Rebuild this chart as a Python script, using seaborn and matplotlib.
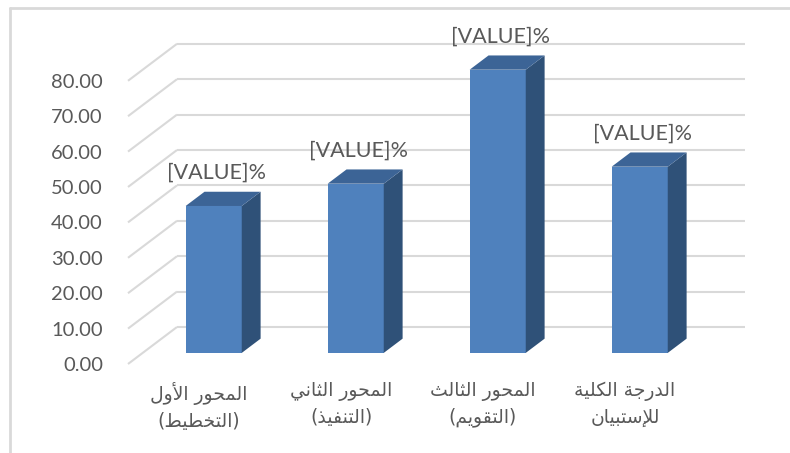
import matplotlib
matplotlib.use("Agg")
import matplotlib.pyplot as plt
from matplotlib.patches import Polygon
from matplotlib.lines import Line2D
import seaborn as sns
import pandas as pd

# ---------------- data ----------------
CATEGORIES = [
    "المحور الأول\n(التخطيط)",
    "المحور الثاني\n(التنفيذ)",
    "المحور الثالث\n(التقويم)",
    "الدرجة الكلية\nللإستبيان",
]
VALUES = [41.5, 47.8, 80.0, 52.6]
DATA_LABELS = ["[VALUE]%", "[VALUE]%", "[VALUE]%", "[VALUE]%"]
Y_TICKS = [0, 10, 20, 30, 40, 50, 60, 70, 80]

# ---------------- minimal Arabic shaping (matplotlib has no complex text layout) ----------------
AR_FORMS = {
    'ء': (0xFE80, 1), 'آ': (0xFE81, 2), 'أ': (0xFE83, 2), 'ؤ': (0xFE85, 2), 'إ': (0xFE87, 2),
    'ئ': (0xFE89, 4), 'ا': (0xFE8D, 2), 'ب': (0xFE8F, 4), 'ة': (0xFE93, 2), 'ت': (0xFE95, 4),
    'ث': (0xFE99, 4), 'ج': (0xFE9D, 4), 'ح': (0xFEA1, 4), 'خ': (0xFEA5, 4), 'د': (0xFEA9, 2),
    'ذ': (0xFEAB, 2), 'ر': (0xFEAD, 2), 'ز': (0xFEAF, 2), 'س': (0xFEB1, 4), 'ش': (0xFEB5, 4),
    'ص': (0xFEB9, 4), 'ض': (0xFEBD, 4), 'ط': (0xFEC1, 4), 'ظ': (0xFEC5, 4), 'ع': (0xFEC9, 4),
    'غ': (0xFECD, 4), 'ف': (0xFED1, 4), 'ق': (0xFED5, 4), 'ك': (0xFED9, 4), 'ل': (0xFEDD, 4),
    'م': (0xFEE1, 4), 'ن': (0xFEE5, 4), 'ه': (0xFEE9, 4), 'و': (0xFEED, 2), 'ى': (0xFEEF, 2),
    'ي': (0xFEF1, 4),
}
LAM_ALEF = {'آ': 0xFEF5, 'أ': 0xFEF7, 'إ': 0xFEF9, 'ا': 0xFEFB}


def shape_line(s):
    units = []
    i = 0
    while i < len(s):
        c = s[i]
        if c == 'ل' and i + 1 < len(s) and s[i + 1] in LAM_ALEF:
            units.append(('LA', s[i + 1]))
            i += 2
        else:
            units.append(('C', c))
            i += 1

    def joins_next(u):
        if u[0] == 'LA':
            return False
        f = AR_FORMS.get(u[1])
        return f is not None and f[1] == 4

    def is_ar(u):
        return u[0] == 'LA' or u[1] in AR_FORMS

    out = []
    for k, u in enumerate(units):
        prev = units[k - 1] if k > 0 else None
        nxt = units[k + 1] if k + 1 < len(units) else None
        jp = prev is not None and joins_next(prev)
        if u[0] == 'LA':
            out.append(chr(LAM_ALEF[u[1]] + (1 if jp else 0)))
            continue
        f = AR_FORMS.get(u[1])
        if f is None:
            out.append(u[1])
            continue
        base, n = f
        if n == 1:
            out.append(chr(base))
            continue
        jn = n == 4 and nxt is not None and is_ar(nxt)
        if jp and jn:
            idx = 3
        elif jp:
            idx = 1
        elif jn:
            idx = 2
        else:
            idx = 0
        out.append(chr(base + idx))
    vis = ''.join(reversed(out))
    return vis.translate(str.maketrans('()', ')('))


def shape(text):
    return "\n".join(shape_line(line) for line in text.split("\n"))


# ---------------- style ----------------
sns.set_theme(style="white")
plt.rcParams['font.family'] = ['Lato', 'DejaVu Sans']

FRONT = "#4F81BD"
SIDE = "#2F5178"
TOP = "#3C6496"
GRID = "#D9D9D9"
TEXT = "#595959"

W, H = 790, 453
fig = plt.figure(figsize=(W / 100, H / 100), dpi=100)
fig.patch.set_facecolor("white")

# axes = front plane of the 3-D floor
L_PX, R_PX, B_PX, T_PX = 128, 696, 364, 80.8
ax = fig.add_axes([L_PX / W, (H - B_PX) / H, (R_PX - L_PX) / W, (B_PX - T_PX) / H])
ax.set_facecolor("none")

n = len(CATEGORIES)
df = pd.DataFrame({"cat": [shape(c) for c in CATEGORIES], "val": VALUES})

BAR_W = 0.395
sns.barplot(data=df, x="cat", y="val", color=FRONT, saturation=1, width=BAR_W,
            ax=ax, zorder=3, edgecolor="none")

ax.set_xlim(-0.5, n - 0.5)
ax.set_ylim(0, Y_TICKS[-1])

# oblique depth vector (data units for full depth of the floor)
DX = 49 / 142.0
DY = 37 / 3.54
Z0, ZB = 0.30, 0.385   # bar front position & bar depth (fractions of floor depth)

# back wall gridlines + left wall diagonals
x0, x1 = ax.get_xlim()
for t in Y_TICKS:
    ax.plot([x0 + DX, x1 + DX], [t + DY, t + DY], color=GRID, lw=1.5,
            clip_on=False, zorder=1, solid_capstyle="butt")
    ax.plot([x0, x0 + DX], [t, t + DY], color=GRID, lw=1.5,
            clip_on=False, zorder=1, solid_capstyle="butt")

# 3-D bars: move front faces to their depth, add side & top faces
bars = list(ax.patches)
for p in bars:
    x, w, h = p.get_x(), p.get_width(), p.get_height()
    x += Z0 * DX
    y = Z0 * DY
    p.set_x(x)
    p.set_y(y)
    p.set_clip_on(False)
    ddx, ddy = ZB * DX, ZB * DY
    side = Polygon([(x + w, y), (x + w + ddx, y + ddy), (x + w + ddx, y + h + ddy), (x + w, y + h)],
                   closed=True, facecolor=SIDE, edgecolor="none", zorder=3, clip_on=False)
    top = Polygon([(x, y + h), (x + w, y + h), (x + w + ddx, y + h + ddy), (x + ddx, y + h + ddy)],
                  closed=True, facecolor=TOP, edgecolor="none", zorder=3, clip_on=False)
    ax.add_patch(side)
    ax.add_patch(top)

# data labels
for p, lab in zip(bars, DATA_LABELS):
    ax.annotate(lab, (p.get_x() + p.get_width() / 2, p.get_y() + p.get_height()),
                xytext=(2, 24), textcoords="offset points", ha="center", va="center",
                fontsize=15.5, color=TEXT, family=['Lato', 'DejaVu Sans'], zorder=5,
                annotation_clip=False)

# axes cosmetics
for s in ax.spines.values():
    s.set_visible(False)
ax.set_yticks(Y_TICKS)
ax.set_yticklabels([f"{t:.2f}" for t in Y_TICKS])
ax.tick_params(axis="y", length=0, pad=18, labelsize=14.5, labelcolor=TEXT)
ax.tick_params(axis="x", length=0, pad=13, labelsize=13.5, labelcolor=TEXT)
for lab in ax.get_xticklabels():
    lab.set_family(['DejaVu Sans'])
    lab.set_linespacing(1.45)
ax.set_xlabel("")
ax.set_ylabel("")
ax.grid(False)

# chart-area frame (top and left edges)
fig.add_artist(Line2D([10 / W, 1], [1 - 8 / H, 1 - 8 / H], color=GRID, lw=2))
fig.add_artist(Line2D([10 / W, 10 / W], [0, 1 - 8 / H], color=GRID, lw=2))

fig.savefig("out.png", dpi=100, facecolor="white")
